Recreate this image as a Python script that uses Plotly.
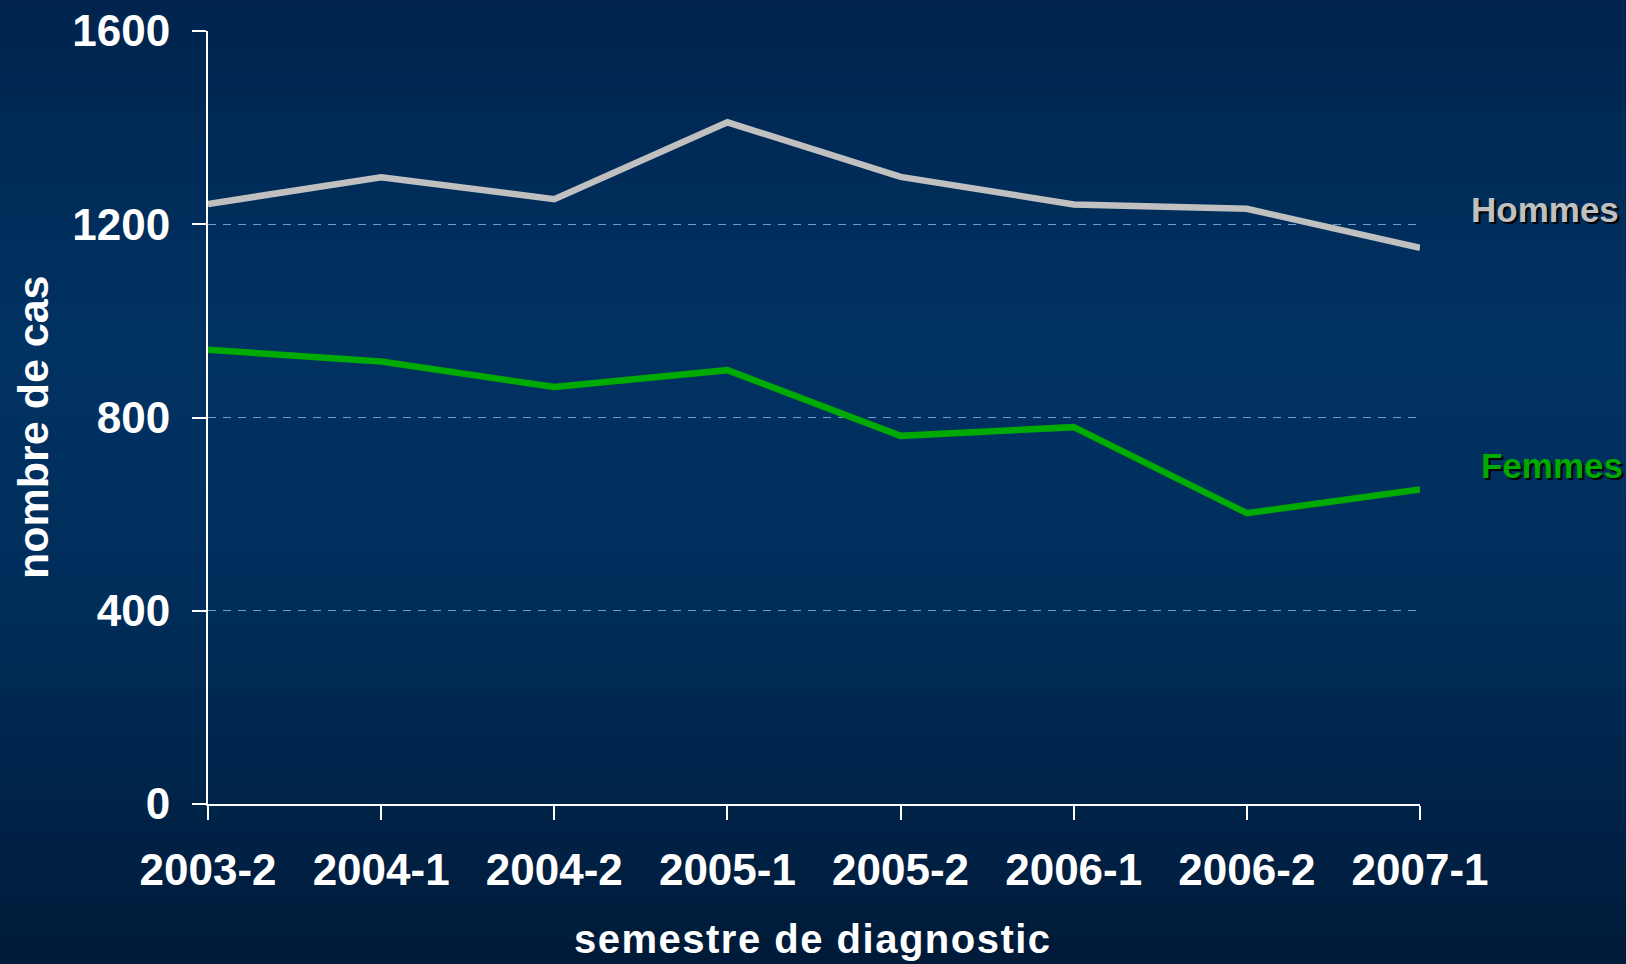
import plotly.graph_objects as go

# ---- data ----
semestres = ["2003-2", "2004-1", "2004-2", "2005-1", "2005-2", "2006-1", "2006-2", "2007-1"]
hommes = [1242, 1297, 1252, 1411, 1298, 1241, 1232, 1151]
femmes = [940, 916, 863, 898, 762, 780, 602, 651]
y_ticks = [0, 400, 800, 1200, 1600]

W, H = 1626, 964
L, R, T, B = 208, 206, 31, 160
pw, ph = W - L - R, H - T - B

fig = go.Figure()
fig.add_trace(go.Scatter(x=semestres, y=hommes, mode="lines", name="Hommes",
                         line=dict(color="#c0c0c0", width=6.5), hoverinfo="x+y"))
fig.add_trace(go.Scatter(x=semestres, y=femmes, mode="lines", name="Femmes",
                         line=dict(color="#00aa00", width=6.5), hoverinfo="x+y"))

# background vertical gradient as stacked bands
stops = [(0.0, (0, 36, 78)), (0.35, (0, 50, 98)), (0.6, (0, 46, 92)), (0.82, (0, 36, 74)), (1.0, (0, 26, 56))]
def col_at(f):
    for (f0, c0), (f1, c1) in zip(stops[:-1], stops[1:]):
        if f0 <= f <= f1:
            t = (f - f0) / (f1 - f0) if f1 > f0 else 0
            return tuple(round(a + (b - a) * t) for a, b in zip(c0, c1))
    return stops[-1][1]

n = 80
shapes = []
x0p, x1p = -L / pw, 1 + R / pw
for i in range(n):
    ftop = i / n
    fbot = (i + 1) / n
    c = col_at((ftop + fbot) / 2)
    ytop_px = ftop * H - (2 if i == 0 else 0)
    ybot_px = fbot * H + 1
    y1 = 1 - (ytop_px - T) / ph
    y0 = 1 - (ybot_px - T) / ph
    shapes.append(dict(type="rect", xref="paper", yref="paper", x0=x0p, x1=x1p, y0=y0, y1=y1,
                       fillcolor="rgb(%d,%d,%d)" % c, line=dict(width=0), layer="below"))

lbl_font = dict(family="Liberation Sans, Arial", size=35, shadow="2px 2px 1px #000000")

fig.update_layout(
    width=W, height=H,
    margin=dict(l=L, r=R, t=T, b=B, pad=0, autoexpand=False),
    paper_bgcolor="#002450",
    plot_bgcolor="rgba(0,0,0,0)",
    showlegend=False,
    shapes=shapes,
    font=dict(family="Liberation Sans, Arial, sans-serif", color="white"),
    xaxis=dict(type="category", range=[0, 7], showgrid=False, zeroline=False,
               showline=True, linecolor="white", linewidth=2, automargin=False,
               ticks="outside", ticklen=14, tickwidth=2, tickcolor="white",
               tickfont=dict(size=44, color="white", family="Liberation Sans, Arial", weight="bold"),
               ticklabelstandoff=12, fixedrange=True),
    yaxis=dict(range=[0, 1600], tickvals=y_ticks, showgrid=True, automargin=False,
               gridcolor="#6f9bd0", gridwidth=1, griddash="8px,7px", zeroline=False,
               showline=True, linecolor="white", linewidth=2,
               ticks="outside", ticklen=14, tickwidth=2, tickcolor="white",
               tickfont=dict(size=44, color="white", family="Liberation Sans, Arial", weight="bold"),
               ticklabelstandoff=13, fixedrange=True),
    annotations=[
        dict(text="<span style=\"letter-spacing:1.5px\"><b>semestre de diagnostic</b></span>",
             xref="paper", yref="paper",
             x=(813 - L) / pw, y=1 - (939 - T) / ph, showarrow=False,
             xanchor="center", yanchor="middle",
             font=dict(size=40, color="white", family="Liberation Sans, Arial")),
        dict(text="<b>nombre de cas</b>", xref="paper", yref="paper", textangle=-90,
             x=(33 - L) / pw, y=1 - (427 - T) / ph, showarrow=False,
             xanchor="center", yanchor="middle",
             font=dict(size=43, color="white", family="Liberation Sans, Arial")),
        dict(text="<b>Hommes</b>", xref="paper", yref="paper",
             x=(1545 - L) / pw, y=1 - (210 - T) / ph, showarrow=False,
             xanchor="center", yanchor="middle",
             font=dict(color="#c0c0c0", **lbl_font)),
        dict(text="<b>Femmes</b>", xref="paper", yref="paper",
             x=(1552 - L) / pw, y=1 - (465 - T) / ph, showarrow=False,
             xanchor="center", yanchor="middle",
             font=dict(color="#00aa00", **lbl_font)),
    ],
)

fig.write_html("out.html", config={"displayModeBar": False},
               post_script="document.body.style.margin='0';document.body.style.overflow='hidden';")
